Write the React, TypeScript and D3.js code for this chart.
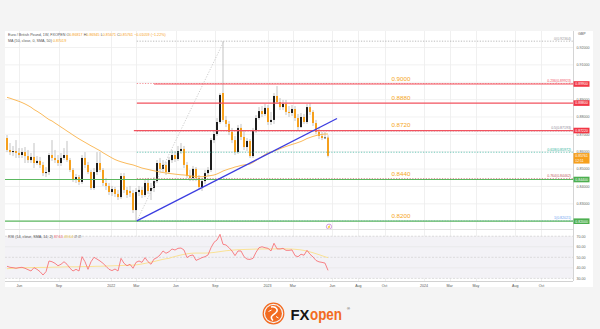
import React from 'react';
import * as d3 from 'd3';

// ---------- data ----------
const START = '2021-05-03'; // first weekly candle
const opens = [
  0.8679, 0.8610, 0.8598, 0.8604, 0.8593, 0.8581, 0.8598, 0.8575, 0.8552, 0.8570,
  0.8535, 0.8547, 0.8524, 0.8477, 0.8483, 0.8581, 0.8564, 0.8552, 0.8535, 0.8564,
  0.8581, 0.8552, 0.8495, 0.8443, 0.8454, 0.8426, 0.8564, 0.8524, 0.8483, 0.8391,
  0.8483, 0.8535, 0.8495, 0.8420, 0.8403, 0.8368, 0.8385, 0.8357, 0.8339, 0.8460,
  0.8380, 0.8374, 0.8362, 0.8264, 0.8368, 0.8380, 0.8351, 0.8420, 0.8374, 0.8391,
  0.8431, 0.8535, 0.8501, 0.8524, 0.8483, 0.8552, 0.8581, 0.8558, 0.8604, 0.8616,
  0.8524, 0.8460, 0.8449, 0.8501, 0.8449, 0.8397, 0.8431, 0.8477, 0.8495, 0.8667,
  0.8702, 0.8771, 0.8938, 0.8783, 0.8760, 0.8714, 0.8667, 0.8598, 0.8737, 0.8685,
  0.8627, 0.8662, 0.8575, 0.8719, 0.8794, 0.8834, 0.8817, 0.8852, 0.8771, 0.8783,
  0.8921, 0.8886, 0.8857, 0.8875, 0.8829, 0.8823, 0.8846, 0.8794, 0.8742, 0.8800,
  0.8771, 0.8857, 0.8829, 0.8765, 0.8714, 0.8691, 0.8679, 0.86817,
];
const highs = [
  0.8696, 0.8650, 0.8633, 0.8667, 0.8621, 0.8621, 0.8627, 0.8610, 0.8593, 0.8650,
  0.8575, 0.8570, 0.8541, 0.8512, 0.8593, 0.8667, 0.8610, 0.8581, 0.8593, 0.8621,
  0.8662, 0.8564, 0.8506, 0.8472, 0.8466, 0.8581, 0.8598, 0.8541, 0.8495, 0.8506,
  0.8598, 0.8598, 0.8506, 0.8449, 0.8420, 0.8403, 0.8397, 0.8380, 0.8477, 0.8477,
  0.8397, 0.8403, 0.8380, 0.8391, 0.8403, 0.8397, 0.8437, 0.8449, 0.8420, 0.8454,
  0.8552, 0.8564, 0.8552, 0.8541, 0.8570, 0.8610, 0.8604, 0.8633, 0.8650, 0.8633,
  0.8541, 0.8495, 0.8518, 0.8512, 0.8466, 0.8449, 0.8495, 0.8512, 0.8679, 0.8725,
  0.8794, 0.8938, 0.92364, 0.8806, 0.8777, 0.8737, 0.8691, 0.8754, 0.8760, 0.8725,
  0.8679, 0.8673, 0.8737, 0.8811, 0.8857, 0.8863, 0.8875, 0.8869, 0.8829, 0.8938,
  0.8978, 0.8909, 0.8898, 0.8898, 0.8863, 0.8869, 0.8863, 0.8817, 0.8823, 0.8817,
  0.8875, 0.8880, 0.8840, 0.8783, 0.8737, 0.8714, 0.8714, 0.86945,
];
const lows = [
  0.8598, 0.8581, 0.8575, 0.8564, 0.8564, 0.8564, 0.8535, 0.8535, 0.8535, 0.8506,
  0.8524, 0.8506, 0.8460, 0.8454, 0.8466, 0.8547, 0.8535, 0.8518, 0.8518, 0.8552,
  0.8541, 0.8483, 0.8426, 0.8420, 0.8408, 0.8414, 0.8506, 0.8472, 0.8380, 0.8380,
  0.8466, 0.8483, 0.8403, 0.8380, 0.8351, 0.8345, 0.8339, 0.8322, 0.8328, 0.8362,
  0.8334, 0.8339, 0.8247, 0.8202, 0.8345, 0.8334, 0.8339, 0.8357, 0.8322, 0.8368,
  0.8420, 0.8489, 0.8483, 0.8466, 0.8472, 0.8535, 0.8541, 0.8547, 0.8587, 0.8506,
  0.8449, 0.8431, 0.8431, 0.8431, 0.8380, 0.8374, 0.8414, 0.8460, 0.8483, 0.8650,
  0.8691, 0.8760, 0.8771, 0.8742, 0.8696, 0.8650, 0.8581, 0.8587, 0.8667, 0.8610,
  0.8604, 0.8564, 0.8564, 0.8708, 0.8783, 0.8800, 0.8806, 0.8754, 0.8754, 0.8760,
  0.8875, 0.8840, 0.8840, 0.8811, 0.8800, 0.8806, 0.8777, 0.8725, 0.8737, 0.8760,
  0.8760, 0.8811, 0.8748, 0.8702, 0.8673, 0.8667, 0.8673, 0.85671,
];
const closes = [
  0.8610, 0.8598, 0.8604, 0.8593, 0.8581, 0.8598, 0.8575, 0.8552, 0.8570, 0.8535,
  0.8547, 0.8524, 0.8477, 0.8483, 0.8581, 0.8564, 0.8552, 0.8535, 0.8564, 0.8581,
  0.8552, 0.8495, 0.8443, 0.8454, 0.8426, 0.8564, 0.8524, 0.8483, 0.8391, 0.8483,
  0.8535, 0.8495, 0.8420, 0.8403, 0.8368, 0.8385, 0.8357, 0.8339, 0.8460, 0.8380,
  0.8351, 0.8362, 0.8264, 0.8368, 0.8380, 0.8351, 0.8420, 0.8374, 0.8391, 0.8431,
  0.8535, 0.8501, 0.8524, 0.8483, 0.8552, 0.8581, 0.8558, 0.8604, 0.8616, 0.8524,
  0.8460, 0.8449, 0.8501, 0.8449, 0.8397, 0.8431, 0.8477, 0.8495, 0.8667, 0.8702,
  0.8771, 0.8927, 0.8783, 0.8760, 0.8714, 0.8667, 0.8598, 0.8737, 0.8685, 0.8627,
  0.8662, 0.8575, 0.8719, 0.8794, 0.8834, 0.8817, 0.8852, 0.8771, 0.8783, 0.8921,
  0.8886, 0.8857, 0.8875, 0.8829, 0.8823, 0.8846, 0.8794, 0.8742, 0.8800, 0.8771,
  0.8857, 0.8829, 0.8765, 0.8714, 0.8691, 0.8679, 0.8682, 0.85761,
];
const ma50 = [
  0.8913, 0.8908, 0.8902, 0.8896, 0.8890, 0.8883, 0.8875, 0.8866, 0.8856, 0.8843,
  0.8833, 0.8822, 0.8810, 0.8797, 0.8785, 0.8777, 0.8765, 0.8754, 0.8742, 0.8731,
  0.8719, 0.8708, 0.8696, 0.8685, 0.8674, 0.8664, 0.8654, 0.8644, 0.8634, 0.8625,
  0.8615, 0.8606, 0.8594, 0.8584, 0.8574, 0.8564, 0.8555, 0.8548, 0.8542, 0.8537,
  0.8532, 0.8528, 0.8524, 0.8518, 0.8512, 0.8506, 0.8502, 0.8498, 0.8494, 0.8490,
  0.8487, 0.8483, 0.8480, 0.8478, 0.8475, 0.8473, 0.8471, 0.8469, 0.8467, 0.8466,
  0.8464, 0.8461, 0.8459, 0.8457, 0.8456, 0.8456, 0.8457, 0.8460, 0.8463, 0.8466,
  0.8472, 0.8480, 0.8489, 0.8495, 0.8501, 0.8506, 0.8512, 0.8516, 0.8521, 0.8524,
  0.8526, 0.8529, 0.8538, 0.8549, 0.8561, 0.8572, 0.8584, 0.8593, 0.8598, 0.8604,
  0.8610, 0.8617, 0.8624, 0.8630, 0.8636, 0.8642, 0.8647, 0.8653, 0.8659, 0.8667,
  0.8676, 0.8682, 0.8688, 0.8693, 0.8697, 0.8700, 0.8702, 0.87019,
];
const rsi = [
  41.5, 40.5, 40.2, 39.6, 40.2, 40.5, 39.6, 38.3, 37.0, 40.2,
  38.6, 36.4, 33.2, 36.4, 46.5, 45.8, 44.3, 42.0, 43.4, 45.8,
  43.4, 39.6, 37.0, 38.6, 37.0, 50.6, 45.8, 38.6, 45.8, 50.0,
  48.3, 46.5, 44.3, 41.5, 38.6, 37.4, 38.9, 37.0, 49.0, 44.3,
  42.0, 43.4, 39.6, 45.2, 46.5, 45.2, 49.7, 45.8, 43.4, 48.3,
  49.7, 52.2, 56.0, 53.8, 55.3, 57.9, 56.9, 58.5, 58.8, 56.9,
  49.7, 51.6, 52.2, 47.1, 48.3, 49.7, 50.6, 52.2, 59.1, 64.2,
  66.4, 71.8, 62.3, 61.7, 59.1, 56.0, 51.6, 56.0, 56.0, 50.6,
  48.3, 48.0, 49.0, 54.7, 59.1, 60.0, 59.1, 58.5, 56.0, 63.3,
  58.0, 57.9, 58.5, 56.6, 56.6, 57.0, 51.6, 50.5, 52.9, 52.0,
  56.6, 52.9, 50.3, 47.0, 45.7, 45.2, 44.5, 37.61,
];
const rsiSma = [
  39.2, 39.4, 39.6, 39.8, 40.0, 40.0, 40.1, 40.2, 40.2, 40.3, 40.3,
  40.4, 40.4, 40.5, 40.5, 40.6, 40.7, 40.8, 40.8, 40.9, 41.0, 41.0,
  41.0, 41.0, 41.1, 41.2, 41.2, 41.3, 41.3, 41.4, 41.5, 41.5, 41.6,
  41.7, 41.8, 41.9, 42.0, 42.1, 42.2, 42.3, 42.4, 42.5, 42.6, 42.8,
  43.2, 43.7, 44.2, 44.8, 45.4, 46.0, 46.7, 47.4, 48.1, 48.6, 49.0,
  50.0, 50.8, 51.5, 52.2, 52.8, 53.3, 53.7, 53.9, 54.0, 54.0, 54.0,
  54.0, 54.1, 54.3, 54.6, 55.0, 55.4, 55.8, 56.2, 56.5, 56.8, 57.0,
  57.2, 57.3, 57.4, 57.5, 57.6, 57.7, 57.8, 57.8, 57.9, 57.9, 57.9,
  57.9, 57.9, 58.0, 58.0, 58.0, 58.0, 57.9, 57.8, 57.6, 57.3, 57.0,
  56.5, 55.8, 55.1, 54.3, 53.4, 52.5, 51.5, 50.5, 49.64,
];

const priceTicks = [0.82, 0.83, 0.84, 0.85, 0.86, 0.87, 0.88, 0.89, 0.9, 0.91, 0.92];
const rsiTicks = [30, 40, 50, 60, 70];
const timeTickDates = [
  '2021-06-01', '2021-09-01', '2022-01-01', '2022-03-01', '2022-06-01', '2022-09-01',
  '2023-01-01', '2023-03-01', '2023-06-01', '2023-08-01', '2023-10-01', '2024-01-01',
  '2024-03-01', '2024-05-01', '2024-08-01', '2024-10-01',
];
const timeTickLabels = [
  'Jun', 'Sep', '2022', 'Mar', 'Jun', 'Sep', '2023', 'Mar', 'Jun', 'Aug', 'Oct', '2024',
  'Mar', 'May', 'Aug', 'Oct',
];

// horizontal support / resistance lines
const levelPrices = [0.899, 0.888, 0.8722, 0.844, 0.82];
const levelLabels = ['0.9000', '0.8880', '0.8720', '0.8440', '0.8200'];
const levelStartDates = ['2022-04-11', '2022-03-02', '2022-02-23', '2021-04-01', '2021-04-01'];
const levelKinds = ['res', 'res', 'res', 'sup', 'sup'];
const levelLabelDate = '2023-10-17';

// Fibonacci retracement
const fibRatios = [0, 0.236, 0.5, 0.618, 0.764, 1];
const fibColors = ['#9a9a9a', '#f0545f', '#8a8794', '#2bb39a', '#c0605a', '#6aa2ef'];
const fibHigh = 0.92364;
const fibLow = 0.82021;
const fibStartDate = '2022-03-02';
const fibEndDate = '2022-09-21';

// trend line
const trendDates = ['2022-03-02', '2023-06-12'];
const trendPrices = [0.8202, 0.8791];

// ---------- component ----------
const FONT = '"Liberation Sans", Arial, sans-serif';
const UP = '#1e1e1e';
const DOWN = '#f6a01c';
const parse = d3.timeParse('%Y-%m-%d');

export default function App() {
  const t0 = parse(START) as Date;
  const n = closes.length;
  const dates = d3.range(n).map((i) => d3.timeDay.offset(t0, 7 * i));

  const left = 5, right = 573, panelRight = 593;
  const mainTop = 31, mainBottom = 229;
  const rsiTop = 230, rsiBottom = 281;

  const x = d3.scaleTime()
    .domain([t0, d3.timeDay.offset(t0, 191 * 7)])
    .range([7, 7 + 191 * 3]);
  const y = d3.scaleLinear().domain([0.82, 0.92]).range([221.2, 47.5]);
  const yr = d3.scaleLinear().domain([30, 70]).range([278.4, 236.2]);

  const maPath = d3.line<number>()
    .x((_, i) => x(dates[i]))
    .y((v) => y(v))
    .curve(d3.curveMonotoneX)(ma50) || '';
  const rsiPath = d3.line<number>()
    .x((_, i) => x(dates[i]))
    .y((v) => yr(v))(rsi) || '';
  const rsiSmaPath = d3.line<number>()
    .x((_, i) => x(dates[i]))
    .y((v) => yr(v))
    .curve(d3.curveMonotoneX)(rsiSma) || '';

  const fibX0 = x(parse(fibStartDate) as Date);
  const fibX1 = x(parse(fibEndDate) as Date);
  const fibPrices = fibRatios.map((r) => fibHigh - r * (fibHigh - fibLow));

  const last = n - 1;
  const chg = closes[last] - closes[last - 1];
  const chgPct = (chg / closes[last - 1]) * 100;
  const fmt = (v: number) => v.toFixed(5);

  const levelLabelX = x(parse(levelLabelDate) as Date);
  const boxYs = levelPrices.map((p) => y(p)).concat([y(closes[last])]);
  const visiblePriceTicks = priceTicks.filter(
    (p) => y(p) > mainTop + 3 && boxYs.every((by) => Math.abs(by - y(p)) > 3),
  );

  return (
    <svg width={600} height={329} style={{ position: 'fixed', left: 0, top: 0 }} fontFamily={FONT}>
      <defs>
        <clipPath id="mainClip">
          <rect x={left} y={mainTop} width={right - left} height={mainBottom - mainTop} />
        </clipPath>
        <clipPath id="rsiClip">
          <rect x={left} y={rsiTop} width={right - left} height={rsiBottom - rsiTop} />
        </clipPath>
      </defs>
      <rect x={0} y={0} width={600} height={329} fill="#f4f4f4" />
      <rect x={left} y={mainTop} width={panelRight - left} height={287 - mainTop} fill="#ffffff" />

      {/* vertical grid */}
      {timeTickDates.map((d, i) => {
        const xx = Math.round(x(parse(d) as Date)) + 0.5;
        return <line key={'vg' + i} x1={xx} x2={xx} y1={mainTop} y2={rsiBottom} stroke="#ececec" strokeWidth={0.8} />;
      })}
      {/* horizontal grid main */}
      {priceTicks.map((p, i) => (
        <line key={'hg' + i} x1={left} x2={right} y1={y(p)} y2={y(p)} stroke="#ededed" strokeWidth={0.8} />
      ))}

      {/* RSI pane */}
      <line x1={left} x2={right} y1={mainBottom + 0.5} y2={mainBottom + 0.5} stroke="#e2e2e2" strokeWidth={1} />
      <rect x={left} y={yr(70)} width={right - left} height={yr(30) - yr(70)} fill="#f3f2f6" />
      {rsiTicks.map((v, i) => (
        <line key={'rg' + i} x1={left} x2={right} y1={yr(v)} y2={yr(v)}
          stroke={v === 60 || v === 40 ? '#e6e6e6' : '#c9c9c9'}
          strokeWidth={0.6} strokeDasharray={v === 60 || v === 40 ? undefined : '2,1.5'} />
      ))}
      <g clipPath="url(#rsiClip)">
        <path d={rsiSmaPath} fill="none" stroke="#fbe08a" strokeWidth={0.9} />
        <path d={rsiPath} fill="none" stroke="#f77478" strokeWidth={0.9} />
      </g>

      {/* main pane */}
      <g clipPath="url(#mainClip)">
        {/* candles */}
        {closes.map((c, i) => {
          const cx = Math.round(x(dates[i]));
          const o = opens[i];
          const top = y(Math.max(o, c));
          const bot = y(Math.min(o, c));
          return (
            <g key={'c' + i}>
              <line x1={cx} x2={cx} y1={y(highs[i])} y2={y(lows[i])} stroke="#b4b4b4" strokeWidth={0.8} />
              <rect x={cx - 1} y={top} width={2} height={Math.max(0.8, bot - top)} fill={c >= o ? UP : DOWN} />
            </g>
          );
        })}
        {/* MA 50 */}
        <path d={maPath} fill="none" stroke="#f9b24a" strokeWidth={0.9} />

        {/* fib retracement */}
        <line x1={fibX0} y1={y(fibLow)} x2={fibX1} y2={y(fibHigh)} stroke="#b8b8b8" strokeWidth={0.7} strokeDasharray="1.2,1.5" />
        {fibPrices.map((p, i) => (
          <line key={'fl' + i} x1={fibX0} x2={right} y1={y(p)} y2={y(p)} stroke={fibColors[i]} strokeWidth={0.8} strokeDasharray="1.2,1.5" opacity={0.85} />
        ))}

        {/* support / resistance */}
        {levelPrices.map((p, i) => (
          <line key={'lv' + i} x1={Math.max(left, x(parse(levelStartDates[i]) as Date))} x2={right}
            y1={y(p)} y2={y(p)} stroke={levelKinds[i] === 'res' ? '#f2525e' : '#5cb860'} strokeWidth={1.2} />
        ))}

        {/* trend line */}
        <line x1={x(parse(trendDates[0]) as Date)} y1={y(trendPrices[0])}
          x2={x(parse(trendDates[1]) as Date)} y2={y(trendPrices[1])} stroke="#3b3de0" strokeWidth={1.3} />

        {/* level labels */}
        {levelPrices.map((p, i) => (
          <text key={'ll' + i} x={levelLabelX} y={y(p) - 3.3} fontSize={6.2} fill="#f5a623">{levelLabels[i]}</text>
        ))}
        {/* fib labels */}
        {fibPrices.map((p, i) => (
          <text key={'ft' + i} x={right - 2} y={y(p) - 1.6} fontSize={3.5} fill={fibColors[i]} textAnchor="end">
            {`${fibRatios[i]}(${fmt(p)})`}
          </text>
        ))}
        {/* event marker */}
        <circle cx={x(dates[last]) + 1} cy={mainBottom - 2.3} r={2.6} fill="#ffffff" stroke="#b15ccc" strokeWidth={0.6} />
        <text x={x(dates[last]) + 1} y={mainBottom - 1.1} fontSize={3.2} fill="#b15ccc" textAnchor="middle">⚡</text>
      </g>

      {/* legends */}
      <text x={8} y={36.2} fontSize={3.7} fill="#555">
        Euro / British Pound, 1W, FXOPEN  O<tspan fill={DOWN}>{fmt(opens[last])}</tspan>  H<tspan fill={DOWN}>{fmt(highs[last])}</tspan>
        {'  '}L<tspan fill={DOWN}>{fmt(lows[last])}</tspan>  C<tspan fill={DOWN}>{fmt(closes[last])}</tspan>
        {'  '}<tspan fill={DOWN}>{`${chg < 0 ? '−' : '+'}${fmt(Math.abs(chg))} (${chg < 0 ? '−' : '+'}${Math.abs(chgPct).toFixed(2)}%)`}</tspan>
      </text>
      <text x={8} y={41.8} fontSize={3.7} fill="#555">
        MA (50, close, 0, SMA, 50)  <tspan fill="#f5a623">{fmt(ma50[last])}</tspan>
      </text>
      <text x={8} y={238} fontSize={3.7} fill="#555">
        RSI (14, close, SMA, 14, 2)  <tspan fill="#f0545f">{rsi[last].toFixed(2)}</tspan>  <tspan fill="#e8c547">{rsiSma[last].toFixed(2)}</tspan>  ∅  ∅
      </text>

      {/* price axis */}
      <line x1={right + 0.5} x2={right + 0.5} y1={mainTop} y2={rsiBottom} stroke="#d4d4d4" strokeWidth={1} />
      <text x={578} y={35} fontSize={3.6} fill="#555">GBP</text>
      {visiblePriceTicks.map((p, i) => (
        <text key={'pt' + i} x={576.5} y={y(p) + 1.3} fontSize={3.6} fill="#666">{fmt(p)}</text>
      ))}
      {rsiTicks.map((v, i) => (
        <text key={'rt' + i} x={576.5} y={yr(v) + 1.3} fontSize={3.6} fill="#666">{v.toFixed(2)}</text>
      ))}
      {levelPrices.map((p, i) => (
        <g key={'lb' + i}>
          <rect x={right + 0.5} y={y(p) - 2.8} width={16} height={5.6} fill={levelKinds[i] === 'res' ? '#f23645' : '#4caf50'} />
          <text x={575.3} y={y(p) + 1.3} fontSize={3.5} fill="#fff">{fmt(p)}</text>
        </g>
      ))}
      <rect x={right + 0.5} y={y(closes[last]) - 2.8} width={16} height={10.5} fill={DOWN} />
      <text x={575.3} y={y(closes[last]) + 1.3} fontSize={3.5} fill="#fff">{fmt(closes[last])}</text>
      <text x={575.3} y={y(closes[last]) + 5.8} fontSize={3.3} fill="#fff">12:51</text>

      {/* time axis */}
      <line x1={left} x2={right} y1={rsiBottom + 0.5} y2={rsiBottom + 0.5} stroke="#d2d2d2" strokeWidth={1.2} />
      {timeTickDates.map((d, i) => (
        <text key={'tt' + i} x={x(parse(d) as Date)} y={287} fontSize={3.6} fill="#555" textAnchor="middle">{timeTickLabels[i]}</text>
      ))}

      {/* FXOpen logo */}
      <g transform="translate(273.5,313.5)">
        <circle r={10.3} fill="none" stroke="#f26b21" strokeWidth={1.2} />
        <circle r={8.4} fill="#f26b21" />
        <path d="M-2.5,-6.5 C3,-7.5 5.5,-3 2,-0.5 C-1.5,2 -4,3.5 -0.5,7" fill="none" stroke="#fff" strokeWidth={1.5} />
        <path d="M-5,-2 L-2,-3.5 M2.5,3 L5,4.5" fill="none" stroke="#fff" strokeWidth={1} />
      </g>
      <text x={290.5} y={319.5} fontSize={15.5} fontWeight={700} fill="#151515" textLength={19} lengthAdjust="spacingAndGlyphs">FX</text>
      <g transform="translate(310,319.5) scale(1,1.25)">
        <text x={0} y={0} fontSize={13.5} fontWeight={700} fill="#f26b21" textLength={32} lengthAdjust="spacingAndGlyphs">open</text>
      </g>
      <text x={347} y={309.5} fontSize={4} fill="#333">®</text>
    </svg>
  );
}
